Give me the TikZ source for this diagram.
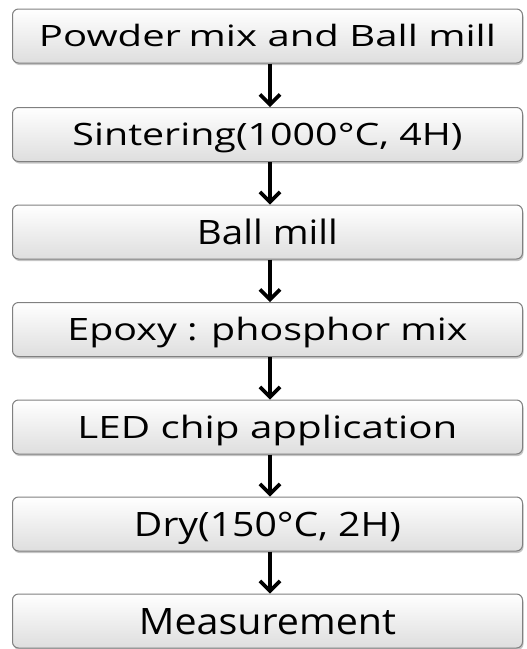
\documentclass[tikz,border=0pt]{standalone}
\usepackage{fontspec}
\setmainfont{Open Sans}
\usetikzlibrary{arrows.meta,shadows}
\newcommand\fittext[3]{\resizebox{#1pt}{\height}{\fontsize{#2pt}{#2pt}\selectfont #3}}
\begin{document}
\begin{tikzpicture}[x=1pt,y=-1pt,
  stepbox/.style={draw=black!50, line width=1pt, rounded corners=6pt,
    minimum width=510pt, minimum height=54pt, inner sep=0pt,
    top color=white, bottom color=black!13,
    drop shadow={shadow xshift=1pt, shadow yshift=-2pt, fill=black!45, opacity=0.5},
    text height=#1pt, text depth=0pt},
  flow/.style={line width=3.6pt, -{Straight Barb[length=10pt,width=20pt,line width=3.6pt]}}]
\useasboundingbox (0,0) rectangle (527,649);
\node[stepbox=21] (s1) at (267.5,36.0) {\fittext{457}{29.4}{Powder\hspace{-2pt} mix and Ball mill}};
\node[stepbox=22] (s2) at (267.5,134.5) {\fittext{390}{30.8}{Sintering(1000°C, 4H)}};
\node[stepbox=24] (s3) at (267.5,232.0) {\fittext{141}{33.6}{Ball mill}};
\node[stepbox=22] (s4) at (267.5,329.5) {\fittext{400}{30.8}{Epoxy : phosphor mix}};
\node[stepbox=22] (s5) at (267.5,427.0) {\fittext{380}{30.8}{LED chip application}};
\node[stepbox=24] (s6) at (267.5,524.0) {\fittext{267}{33.6}{Dry(150°C, 2H)}};
\node[stepbox=26] (s7) at (267.5,621.0) {\fittext{257}{36.4}{Measurement}};
\foreach \a/\b in {s1/s2,s2/s3,s3/s4,s4/s5,s5/s6,s6/s7}
  \draw[flow] ([xshift=2.5pt]\a.south) -- ([xshift=2.5pt]\b.north);
\end{tikzpicture}
\end{document}
